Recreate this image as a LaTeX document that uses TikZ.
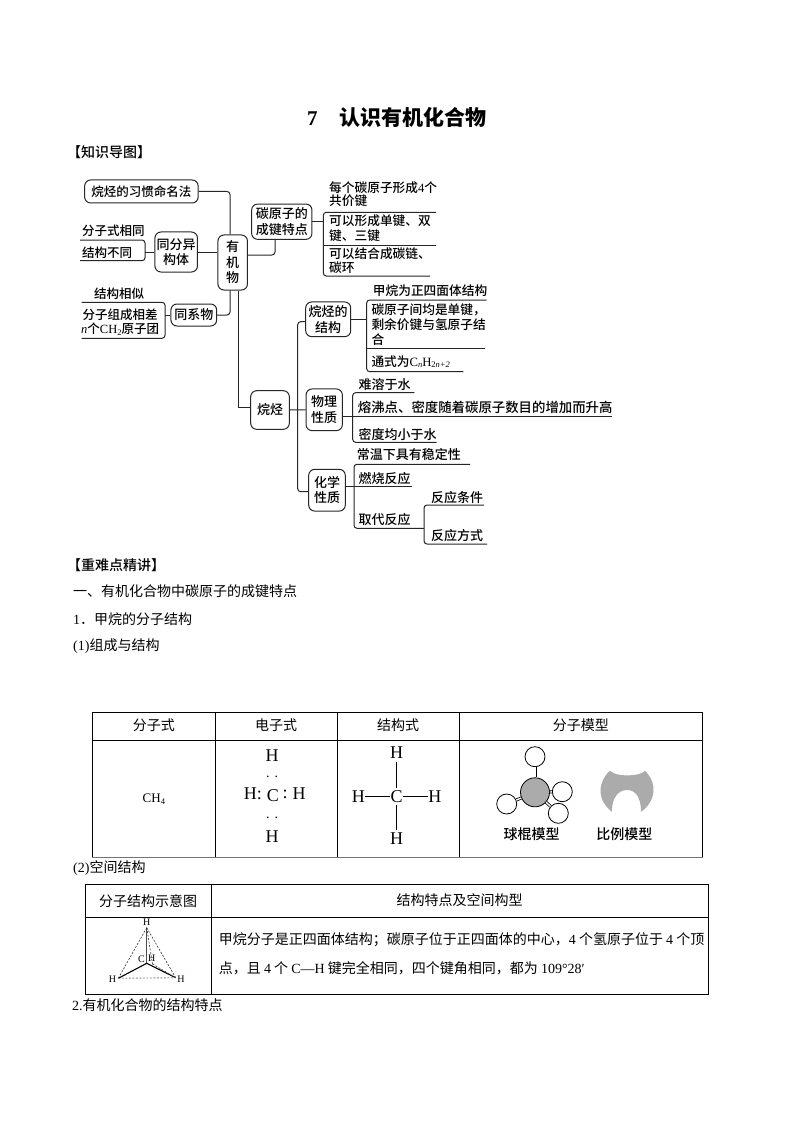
\documentclass[tikz,border=0pt]{standalone}
\usepackage{fontspec}
\setmainfont{Noto Sans CJK SC}
\newfontfamily\latinf{Liberation Serif}
\newfontfamily\medf{Noto Sans CJK SC Medium}
\usetikzlibrary{calc}
\newcommand{\fsz}[2]{\fontsize{#1}{#2}\selectfont}
\newcommand{\sbs}[1]{\raisebox{-0.3ex}{\fontsize{8.5}{8.5}\selectfont #1}}
\newcommand{\lt}[1]{{\latinf #1}}
\tikzset{
  x=1pt,y=-1pt,
  conn/.style={draw=black!85,line width=1pt},
  bracket/.style={conn,rounded corners=3pt},
  mbox/.style={draw=black!85,line width=1pt,rounded corners=6pt,inner sep=0pt,align=center,font=\fsz{13}{15.5}\medf},
  mtext/.style={anchor=west,inner sep=0pt,align=left,font=\fsz{12.7}{15}\medf},
  mwide/.style={mtext,font=\fsz{13}{15}\medf},
  mnarrow/.style={mtext,font=\fsz{12.5}{15}\medf},
  body/.style={anchor=west,inner sep=0pt,font=\fsz{14}{16}},
  cell/.style={draw=black,line width=0.8pt,anchor=north west,inner sep=0pt,align=center,font=\fsz{14}{16}},
  chem/.style={inner sep=0pt,font=\fsz{18}{18}\latinf},
  small/.style={inner sep=0pt,font=\fsz{10}{10}\latinf},
  ball/.style={circle,draw=black,line width=0.8pt,fill=white,minimum size=20pt,inner sep=0pt},
  bond/.style={draw=black,line width=0.8pt},
  gray fill/.style={fill=black!33}
}
\begin{document}
\begin{tikzpicture}
\useasboundingbox[fill=white] (0,0) rectangle (794,1123);

% headings
\node[anchor=west,inner sep=0pt,font=\fsz{21}{23}\bfseries] (title) at (307,117) {\lt{7}\hspace{22pt}认识有机化合物};
\node[body,font=\fsz{14}{16}\medf] (h1) at (67,152) {【知识导图】};
\node[body,font=\fsz{14}{16}\medf] (h2) at (67,565) {【重难点精讲】};
\node[body] (p1) at (73,591.5) {一、有机化合物中碳原子的成键特点};
\node[body] (p2) at (73,619.5) {\lt{1}．甲烷的分子结构};
\node[body] (p3) at (73,646.5) {\lt{(1)}组成与结构};
\node[body] (p4) at (73,868) {\lt{(2)}空间结构};
\node[body] (p5) at (72,1005) {\lt{2.}有机化合物的结构特点};

% mind map boxes
\node[mbox,minimum width=29.5pt,minimum height=55pt] (yjw) at (232.7,262.5) {有\\机\\物};
\node[mbox,minimum width=113.5pt,minimum height=23pt,font=\fsz{12.5}{14}\medf] (xg) at (141.4,191.5) {烷烃的习惯命名法};
\node[mbox,minimum width=42.5pt,minimum height=40pt] (tf) at (176.2,252) {同分异\\构体};
\node[mbox,minimum width=45.7pt,minimum height=22pt] (txw) at (193.8,315) {同系物};
\node[mbox,minimum width=60.3pt,minimum height=35.3pt] (cc) at (281.8,221.7) {碳原子的\\成键特点};
\node[mbox,minimum width=38.6pt,minimum height=38.6pt] (wt) at (270,410) {烷烃};
\node[mbox,minimum width=45pt,minimum height=34.7pt] (wtjg) at (328.2,319.3) {烷烃的\\结构};
\node[mbox,minimum width=36.3pt,minimum height=41.7pt] (wl) at (324.2,409.8) {物理\\性质};
\node[mbox,minimum width=36.6pt,minimum height=41.7pt] (hx) at (327,490.2) {化学\\性质};

% mind map texts
\node[mnarrow] (t1) at (82,231) {分子式相同};
\node[mnarrow] (t2) at (82,252.7) {结构不同};
\node[mnarrow,anchor=center] (t3) at (119,294) {结构相似};
\node[mnarrow] (t4) at (82.5,315) {分子组成相差};
\node[mnarrow] (t5) at (81,329) {{\latinf\itshape n}个\lt{CH\sbs{2}}原子团};
\node[mtext] (t6) at (329,188) {每个碳原子形成\lt{4}个};
\node[mtext] (t7) at (329,201) {共价键};
\node[mtext] (t8) at (329,221) {可以形成单键、双};
\node[mtext] (t9) at (329,236) {键、三键};
\node[mtext] (t10) at (329,254) {可以结合成碳链、};
\node[mtext] (t11) at (329,268) {碳环};
\node[mtext] (t12) at (372.7,290.7) {甲烷为正四面体结构};
\node[mtext] (t13) at (371.3,310) {碳原子间均是单键，};
\node[mtext] (t14) at (371.3,325) {剩余价键与氢原子结};
\node[mtext] (t15) at (371.3,340) {合};
\node[mtext] (t16) at (371.3,361.7) {通式为\lt{C\sbs{\itshape n}H\sbs{2\itshape n+2}}};
\node[mwide] (t17) at (358.5,385) {难溶于水};
\node[mwide,font=\fsz{13.4}{15}\medf] (t18) at (357.7,407.7) {熔沸点、密度随着碳原子数目的增加而升高};
\node[mwide] (t19) at (358.5,434.3) {密度均小于水};
\node[mwide] (t20) at (356.7,455) {常温下具有稳定性};
\node[mwide] (t21) at (358.5,479) {燃烧反应};
\node[mwide] (t22) at (358.5,519.3) {取代反应};
\node[mwide] (t23) at (431,497.3) {反应条件};
\node[mwide] (t24) at (431,536) {反应方式};

% bracket end points
\coordinate (b1a) at (80,240);  \coordinate (b1b) at (80,260.7);
\coordinate (b2a) at (81.7,302.3); \coordinate (b2b) at (81.7,338.3);
\coordinate (b3a) at (436,212.3); \coordinate (b3m) at (436,245.3); \coordinate (b3b) at (430,276);
\coordinate (b4a) at (486.7,300); \coordinate (b4m) at (485,348.3); \coordinate (b4b) at (463.3,371.7);
\coordinate (b5a) at (414.3,392.7); \coordinate (b5m) at (611.7,416); \coordinate (b5b) at (436.7,442.3);
\coordinate (b6a) at (470,464.3); \coordinate (b6m) at (411.7,486.7); \coordinate (b6b) at (423.3,528.3);
\coordinate (b7a) at (484,505); \coordinate (b7b) at (487,544);

% left brackets
\draw[bracket] (b1a) -- (145,240) -- (145,260.7) -- (b1b);
\draw[bracket] (b2a) -- (165,302.3) -- (165,338.3) -- (b2b);
\draw[conn] (tf.west) -- (145,252);
\draw[conn] (txw.west) -- (165,315);
% right brackets
\draw[bracket] (b3a) -- (323.3,212.3) -- (323.3,276) -- (b3b);
\draw[conn] (323.3,245.3) -- (b3m);
\draw[conn] (cc.east) -- (323.3,221.7);
\draw[bracket] (b4a) -- (366.7,300) -- (366.7,371.7) -- (b4b);
\draw[conn] (366.7,348.3) -- (b4m);
\draw[conn] (wtjg.east) -- (366.7,319.3);
\draw[bracket] (b5a) -- (352.7,392.7) -- (352.7,442.3) -- (b5b);
\draw[conn] (wl.east |- b5m) -- (b5m);
\draw[bracket] (b6a) -- (354,464.3) -- (354,528.3) -- (b6b);
\draw[conn] (hx.east |- b6m) -- (b6m);
\draw[bracket] (b7a) -- (424,505) -- (424,544) -- (b7b);
\draw[conn] (b6b) -- (424,528.3);
% trunk connectors
\draw[bracket] (xg.east) -| ([xshift=-2.7pt]yjw.north);
\draw[conn] (tf.east) -- (yjw.west |- tf.east);
\draw[bracket] (txw.east) -| ([xshift=-2.7pt]yjw.south);
\draw[bracket] (yjw.east |- 0,255) -| (cc.south -| 275,0);
\draw[conn] ([xshift=5.6pt]yjw.south) |- ([yshift=2.7pt]wt.west);
\draw[conn] (wt.east) -- (wl.west);
\draw[bracket] ([yshift=-2.4pt]wtjg.west) -- (297.7,321.7) -- (297.7,491.7) -- ([yshift=-1.5pt]hx.west);

% table 1
\node[cell,minimum width=122.5pt,minimum height=28pt] (a1) at (92.2,712) {\raisebox{3pt}{分子式}};
\node[cell,minimum width=122pt,minimum height=28pt] (a2) at (214.7,712) {\raisebox{3pt}{电子式}};
\node[cell,minimum width=122pt,minimum height=28pt] (a3) at (336.7,712) {\raisebox{3pt}{结构式}};
\node[cell,minimum width=243.3pt,minimum height=28pt] (a4) at (458.7,712) {\raisebox{3pt}{分子模型}};
\node[cell,minimum width=122.5pt,minimum height=117pt] (c1) at (92.2,740) {\fsz{13}{14}\lt{CH\sbs{4}}};
\node[cell,minimum width=122pt,minimum height=117pt] (c2) at (214.7,740) {};
\node[cell,minimum width=122pt,minimum height=117pt] (c3) at (336.7,740) {};
\node[cell,minimum width=243.3pt,minimum height=117pt] (c4) at (458.7,740) {};
\draw[black!55,line width=1pt] (c1.south west) -- (c4.south east);

% electron formula
\node[chem] (e1) at (272,755.7) {H};
\node[chem,font=\fsz{14}{14}\latinf] (e2) at (272,777) {.\hspace{5pt}.};
\node[chem,anchor=east] (e3) at (262,794) {H:};
\node[chem] (e4) at (272.8,796) {C};
\node[chem] (e5) at (285,794) {:};
\node[chem] (e6) at (299,794) {H};
\node[chem,font=\fsz{14}{14}\latinf] (e7) at (272,818) {.\hspace{5pt}.};
\node[chem] (e8) at (272,837) {H};

% structural formula
\node[chem] (s0) at (396.6,796.7) {C};
\node[chem] (s1) at (396.6,753) {H};
\node[chem] (s2) at (358.4,796.7) {H};
\node[chem] (s3) at (434.8,796.7) {H};
\node[chem] (s4) at (396.6,839) {H};
\draw[bond] (s0.north) ++(0,-2) -- ([yshift=-3pt]s1.south);
\draw[bond] (s0) -- (s2);
\draw[bond] (s0) -- (s3);
\draw[bond] (s0.south) ++(0,2) -- ([yshift=3pt]s4.north);

% ball and stick
\node[ball] (bh1) at (535,756.7) {};
\node[ball] (bh2) at (562.3,791.7) {};
\node[ball] (bh3) at (558.3,813.3) {};
\node[ball] (bh4) at (506.7,804) {};
\node[circle,draw=black,line width=0.8pt,gray fill,minimum size=29pt,inner sep=0pt] (bc) at (535,792.3) {};
\draw[bond,double,double distance=1.4pt] (bc) -- (bh1);
\draw[bond,double,double distance=1.4pt] (bc) -- (bh2);
\draw[bond,double,double distance=1.4pt] (bc) -- (bh3);
\draw[bond,double,double distance=1.4pt] (bc) -- (bh4);
\node[inner sep=0pt,font=\fsz{14}{16}\medf] (lb1) at (531.7,834) {球棍模型};
\node[inner sep=0pt,font=\fsz{14}{16}\medf] (lb2) at (624.3,834) {比例模型};
% space-filling
\fill[gray fill,draw=none] (610,770.7)
  .. controls (615,777) and (640,777) .. (645,770.7)
  .. controls (652,778) and (654,785) .. (653.5,791)
  .. controls (653,800) and (647,808) .. (641,811.7)
  .. controls (641,798) and (636,790) .. (627,790)
  .. controls (618,790) and (612,798) .. (611.7,811.7)
  .. controls (605,806) and (600.5,799) .. (600.5,791)
  .. controls (600.5,783) and (604,776) .. (610,770.7) -- cycle;

% table 2
\node[cell,minimum width=125.5pt,minimum height=33.3pt] (d1) at (85,884) {\raisebox{2pt}{分子结构示意图}};
\node[cell,minimum width=497.5pt,minimum height=33.3pt] (d2) at (210.5,884) {\raisebox{2pt}{结构特点及空间构型}};
\node[cell,minimum width=125.5pt,minimum height=77pt] (f1) at (85,917.3) {};
\node[cell,minimum width=497.5pt,minimum height=77pt] (f2) at (210.5,917.3) {};
\node[body] (g1) at (218.7,940) {甲烷分子是正四面体结构；碳原子位于正四面体的中心，\lt{4} 个氢原子位于 \lt{4} 个顶};
\node[body] (g2) at (218.7,968.3) {点，且 \lt{4} 个 \lt{C—H} 键完全相同，四个键角相同，都为 \lt{109°28′}};

% tetrahedron
\node[small] (hTop) at (146.7,922) {H};
\node[small] (hC) at (141.5,959) {C};
\node[small] (hB) at (151.7,958) {H};
\node[small] (hL) at (112.5,979) {H};
\node[small] (hR) at (181,979) {H};
\coordinate (vT) at (146.7,927.7);
\coordinate (vO) at (146.7,963.3);
\coordinate (vL) at (118.3,978.3);
\coordinate (vR) at (175.7,977.7);
\coordinate (vB) at (152.5,964);
\draw[black!70,line width=0.9pt] (vT) -- (vO);
\draw[black,line width=1.1pt] (vO) -- (vL);
\draw[black,line width=1.1pt] (vO) -- (vR);
\draw[black!80,line width=0.6pt,dashed,dash pattern=on 2pt off 1.5pt] (vT) -- (vL);
\draw[black!80,line width=0.6pt,dashed,dash pattern=on 2pt off 1.5pt] (vT) -- (vR);
\draw[black!80,line width=0.6pt,dashed,dash pattern=on 2pt off 1.5pt] (vT) -- (vB);
\draw[black!80,line width=0.6pt,dashed,dash pattern=on 2pt off 1.5pt] (vB) -- (vR);
\draw[black!45,line width=0.9pt,dashed,dash pattern=on 2pt off 1.5pt] (vL) -- (vR);
\end{tikzpicture}
\end{document}
